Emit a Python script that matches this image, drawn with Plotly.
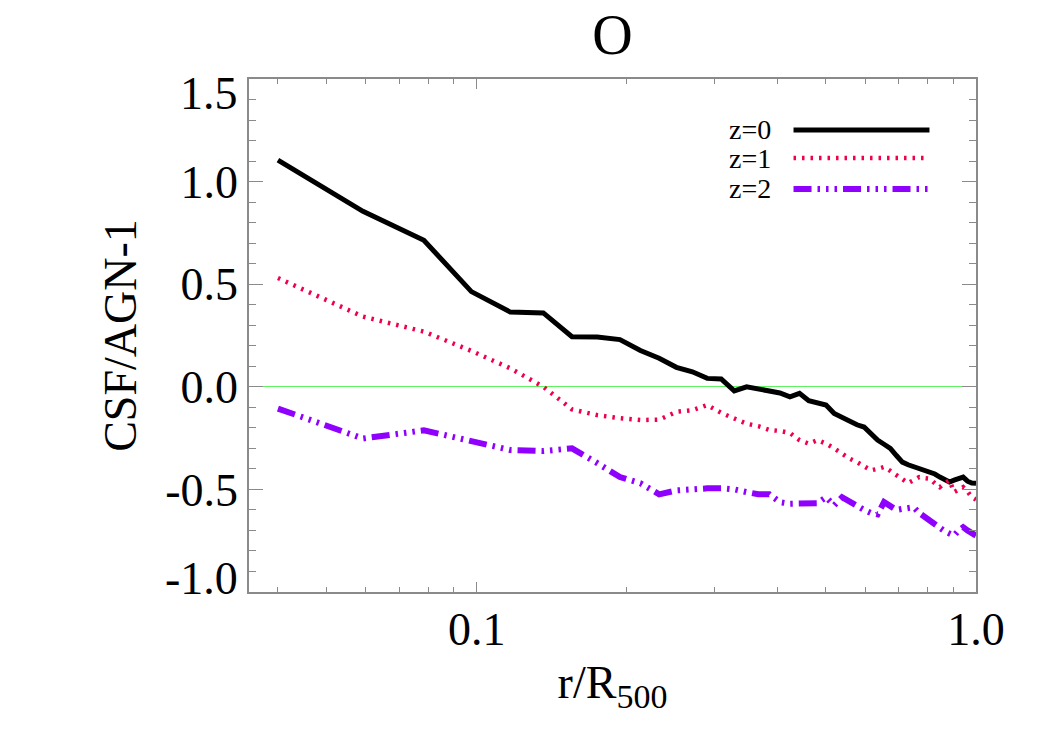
import plotly.graph_objects as go

# radial bins r/R500
r = [0.04, 0.0592, 0.0784, 0.0976, 0.1168, 0.136, 0.1552, 0.1744, 0.1936, 0.2128,
     0.232, 0.2512, 0.2704, 0.2896, 0.3088, 0.328, 0.3472, 0.3664, 0.3856, 0.4048,
     0.424, 0.4432, 0.4624, 0.4816, 0.5008, 0.52, 0.5392, 0.5584, 0.5776, 0.5968,
     0.616, 0.6352, 0.6544, 0.6736, 0.6928, 0.712, 0.7312, 0.7504, 0.7696, 0.7888,
     0.808, 0.8272, 0.8464, 0.8656, 0.8848, 0.904, 0.9232, 0.9424, 0.9616, 0.9808, 1.0]

z0 = [1.105, 0.855, 0.714, 0.464, 0.364, 0.360, 0.244, 0.243, 0.230, 0.177,
      0.139, 0.095, 0.073, 0.041, 0.038, -0.020, 0.000, -0.010, -0.016, -0.030,
      -0.049, -0.032, -0.068, -0.080, -0.089, -0.130, -0.150, -0.171, -0.185, -0.196,
      -0.230, -0.260, -0.280, -0.300, -0.335, -0.367, -0.380, -0.390, -0.400, -0.410,
      -0.415, -0.425, -0.440, -0.452, -0.464, -0.455, -0.445, -0.440, -0.460, -0.469, -0.470]

z1 = [0.530, 0.342, 0.269, 0.175, 0.090, 0.000, -0.110, -0.138, -0.153, -0.162,
      -0.160, -0.122, -0.114, -0.089, -0.127, -0.155, -0.180, -0.192, -0.210, -0.215,
      -0.225, -0.260, -0.277, -0.260, -0.277, -0.300, -0.326, -0.350, -0.367, -0.390,
      -0.407, -0.400, -0.391, -0.410, -0.430, -0.450, -0.469, -0.455, -0.440, -0.445,
      -0.448, -0.470, -0.489, -0.470, -0.456, -0.513, -0.500, -0.489, -0.510, -0.538, -0.550]

z2 = [-0.106, -0.252, -0.212, -0.265, -0.308, -0.313, -0.300, -0.372, -0.440, -0.470,
      -0.524, -0.505, -0.497, -0.495, -0.494, -0.500, -0.513, -0.524, -0.524, -0.562,
      -0.570, -0.570, -0.568, -0.567, -0.538, -0.578, -0.538, -0.560, -0.587, -0.600,
      -0.615, -0.622, -0.562, -0.580, -0.600, -0.595, -0.590, -0.587, -0.615, -0.635,
      -0.655, -0.676, -0.690, -0.704, -0.715, -0.725, -0.700, -0.684, -0.700, -0.715, -0.725]

series_names = ["z=0", "z=1", "z=2"]
series_colors = ["#000000", "#F0004C", "#8F00FF"]
series_widths = [5, 4.5, 6]
series_dash = ["solid", "2.5px,6px", "18px,6px,2.5px,6px,2.5px,6px,2.5px,6px"]
series_values = [z0, z1, z2]

# inner y tick labels on the axis; the two edge labels are nudged inward, as in the reference
y_ticks = [-0.5, 0.0, 0.5, 1.0]
y_ticktext = ["-0.5", "0.0", "0.5", "1.0"]
y_edge_vals = [1.5, -1.0]
y_edge_text = ["1.5", "-1.0"]
y_edge_shift = [-14, 14]
x_ticks = [0.1, 1.0]
x_ticktext = ["0.1", "1.0"]
x_minor = [0.04, 0.05, 0.06, 0.07, 0.08, 0.09, 0.2, 0.3, 0.4, 0.5, 0.6, 0.7, 0.8, 0.9]

FONT = "Liberation Serif, Times New Roman, serif"
AX = "#8a8a8a"

fig = go.Figure()
for name, vals, col, w, d in zip(series_names, series_values, series_colors, series_widths, series_dash):
    fig.add_trace(go.Scatter(x=r, y=vals, mode="lines", name=name,
                             line=dict(color=col, width=w, dash=d),
                             showlegend=False))

# legend drawn in the reference style: label on left, line sample on right
leg_y = [0.9006, 0.846, 0.7856]
for name, col, w, d, ly in zip(series_names, series_colors, series_widths, series_dash, leg_y):
    fig.add_shape(type="line", xref="paper", yref="paper", x0=0.749, x1=0.936, y0=ly, y1=ly,
                  line=dict(color=col, width=w, dash=d))
    fig.add_annotation(text=name, xref="paper", yref="paper", x=0.721, y=ly,
                       xanchor="right", yanchor="middle", showarrow=False,
                       font=dict(family=FONT, size=28, color="black"))

for v, t, s in zip(y_edge_vals, y_edge_text, y_edge_shift):
    fig.add_annotation(text=t, xref="paper", yref="y", x=0, y=v, xshift=-9, yshift=s,
                       xanchor="right", yanchor="middle", showarrow=False,
                       font=dict(family=FONT, size=46, color="black"))

fig.update_layout(
    width=1050, height=750,
    margin=dict(l=249, r=74, t=79, b=158),
    paper_bgcolor="white", plot_bgcolor="white",
    font=dict(family=FONT, color="black"),
    title=dict(text="O", x=0.5, xref="paper", xanchor="center",
               y=1 - 34 / 750, yref="container", yanchor="middle",
               font=dict(family=FONT, size=56, color="black")),
)

fig.update_xaxes(
    type="log", range=[-1.4559, 0.0],
    tickvals=x_ticks, ticktext=x_ticktext,
    ticks="inside", ticklen=10, tickwidth=1.2, tickcolor=AX,
    minor=dict(tickvals=x_minor, ticks="inside", ticklen=5, tickwidth=1.2, tickcolor=AX),
    showline=True, linecolor=AX, linewidth=1.5, mirror="ticks",
    showgrid=False, zeroline=False,
    tickfont=dict(family=FONT, size=46, color="black"),
    ticklabelstandoff=-4,
    title=dict(text="r/R<sub><span style='font-size:34px'>500</span></sub>",
               font=dict(family=FONT, size=46, color="black"), standoff=12),
)

fig.update_yaxes(
    range=[-1.0, 1.5],
    tickvals=y_ticks, ticktext=y_ticktext,
    ticks="inside", ticklen=14, tickwidth=1.2, tickcolor=AX,
    minor=dict(dtick=0.1, ticks="inside", ticklen=7, tickwidth=1.2, tickcolor=AX),
    showline=True, linecolor=AX, linewidth=1.5, mirror="ticks",
    showgrid=False,
    zeroline=True, zerolinecolor="#5ef25e", zerolinewidth=1,
    tickfont=dict(family=FONT, size=46, color="black"),
    ticklabelstandoff=0,
    title=dict(text="CSF/AGN-1", font=dict(family=FONT, size=46, color="black"), standoff=14),
)

fig.write_html("out.html")
